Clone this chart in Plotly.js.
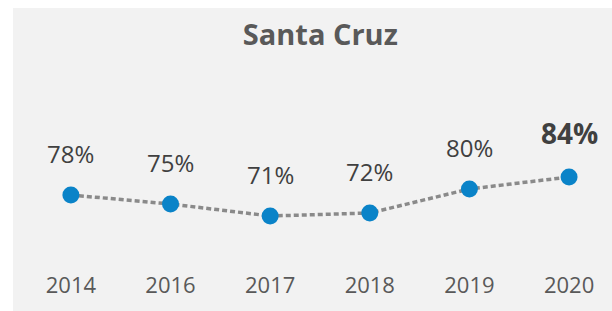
<!DOCTYPE html>
<html>
<head>
<meta charset="utf-8">
<script src="https://cdn.plot.ly/plotly-3.0.1.min.js"></script>
<style>
html,body{margin:0;padding:0;background:#ffffff;width:612px;height:311px;overflow:hidden;}
#chart{position:absolute;left:13px;top:8px;width:599px;height:303px;}
</style>
</head>
<body>
<div id="chart"></div>
<script>
const years = ['2014','2016','2017','2018','2019','2020'];
const values = [78, 75, 71, 72, 80, 84];
const chartTitle = 'Santa Cruz';

const last = values.length - 1;
const annotations = values.map((v, i) => ({
  x: i, y: v, xref: 'x', yref: 'y',
  text: i === last ? '<b>' + v + '%</b>' : v + '%',
  showarrow: false, yanchor: 'bottom', xanchor: 'center',
  yshift: i === last ? 23 : 23,
  font: {family: 'Open Sans, sans-serif', size: i === last ? 28 : 24, color: '#404040'}
}));

const trace = {
  x: years, y: values, type: 'scatter', mode: 'lines+markers',
  line: {color: '#8a8a8a', width: 3.5, dash: '5px,3px'},
  marker: {color: '#0a83c8', size: 17},
  hoverinfo: 'skip'
};

const layout = {
  width: 599, height: 303,
  paper_bgcolor: '#f2f2f2', plot_bgcolor: '#f2f2f2',
  margin: {l: 0, r: 0, t: 121, b: 41},
  showlegend: false,
  title: {text: '<b>' + chartTitle + '</b>', x: 0.513, xanchor: 'center', y: 0.91, yanchor: 'middle',
          font: {family: 'Open Sans, sans-serif', size: 29, color: '#595959'}},
  xaxis: {type: 'category', range: [-0.581, 5.431], showgrid: false, zeroline: false, showline: false,
          ticks: '', tickfont: {family: 'Open Sans, sans-serif', size: 22, color: '#595959'}},
  yaxis: {range: [53, 100], visible: false, showgrid: false, zeroline: false},
  annotations: annotations
};

Plotly.newPlot('chart', [trace], layout, {staticPlot: true, displayModeBar: false});
</script>
</body>
</html>
